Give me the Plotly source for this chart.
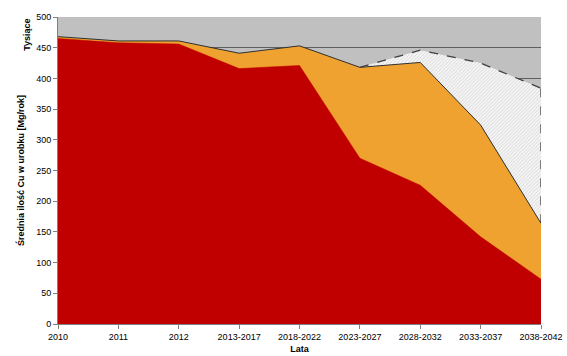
import numpy as np
import plotly.graph_objects as go

categories = ["2010", "2011", "2012", "2013-2017", "2018-2022",
              "2023-2027", "2028-2032", "2033-2037", "2038-2042"]
existing = [465, 458, 456, 416, 421, 270, 226, 142, 73]
new_mines = [3, 3, 5, 25, 32, 148, 200, 182, 91]
potential = [None, None, None, None, None, 0, 20, 101, 220]
y_ticks = list(range(0, 501, 50))

x = np.arange(len(categories))
red = np.array(existing, dtype=float)
orange_total = red + np.array(new_mines, dtype=float)
pot_idx = [i for i, v in enumerate(potential) if v is not None]
pot_x = x[pot_idx]
pot_total = orange_total[pot_idx] + np.array([potential[i] for i in pot_idx], dtype=float)

fig = go.Figure()
fig.add_trace(go.Scatter(
    x=pot_x, y=pot_total, mode="lines", fill="tozeroy",
    line=dict(color="#404040", width=1.3, dash="dash"),
    fillcolor="#f2f2f2",
    fillpattern=dict(shape="/", fgcolor="#b8b8b8", bgcolor="#f4f4f4", size=2.5, solidity=0.35),
    hoverinfo="skip", showlegend=False))
fig.add_trace(go.Scatter(
    x=[pot_x[-1], pot_x[-1]], y=[orange_total[-1], pot_total[-1]], mode="lines",
    line=dict(color="#404040", width=1.3, dash="dash"),
    hoverinfo="skip", showlegend=False))
fig.add_trace(go.Scatter(
    x=x, y=orange_total, mode="lines", fill="tozeroy",
    line=dict(color="#303030", width=1), fillcolor="#EFA22F",
    showlegend=False))
fig.add_trace(go.Scatter(
    x=x, y=red, mode="lines", fill="tozeroy",
    line=dict(color="#C00000", width=0.5), fillcolor="#C00000",
    showlegend=False))

font = dict(family="Liberation Sans, Arial", size=9, color="#000000")
fig.update_layout(
    width=567, height=356,
    margin=dict(l=58, r=26, t=17, b=32, autoexpand=False),
    paper_bgcolor="white", plot_bgcolor="#C0C0C0",
    font=font,
    xaxis=dict(
        automargin=False,
        range=[0, len(categories) - 1], tickvals=x, ticktext=categories,
        showgrid=False, zeroline=False, showline=True, linecolor="#808080",
        ticks="outside", ticklen=4, tickcolor="#808080",
        tickfont=dict(size=9),
        title=dict(text="<b>Lata</b>", font=dict(size=9), standoff=4)),
    yaxis=dict(
        automargin=False,
        range=[0, 500], tickvals=y_ticks,
        showgrid=True, gridcolor="#606060", gridwidth=1, zeroline=False,
        showline=True, linecolor="#808080", ticks="outside", ticklen=4,
        tickcolor="#808080", tickfont=dict(size=9),
        title=dict(text="<b>Średnia ilość Cu w urobku [Mg/rok]</b>",
                   font=dict(size=9), standoff=10)),
)
fig.add_annotation(
    text="<b>Tysiące</b>", xref="paper", yref="paper", x=-0.05, y=1.0,
    xanchor="right", yanchor="top", textangle=-90, showarrow=False,
    font=dict(size=9))

fig.write_html("out.html", config={"displayModeBar": False},
               post_script="document.body.style.margin='0';document.body.style.overflow='hidden';")
